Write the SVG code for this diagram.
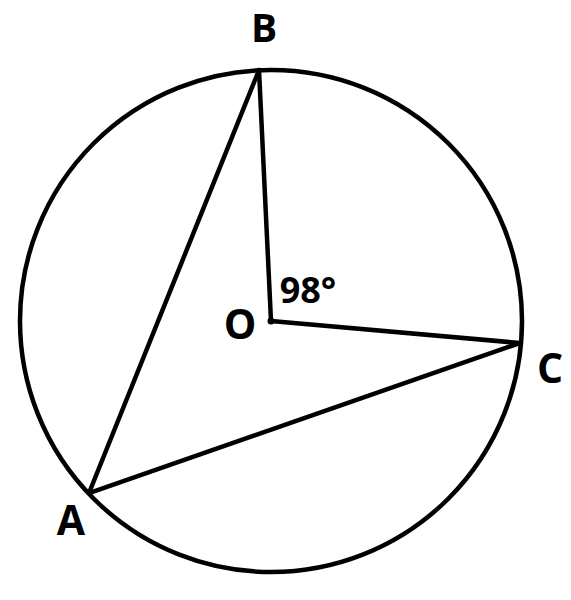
<svg xmlns="http://www.w3.org/2000/svg" width="571" height="600" viewBox="0 0 571 600">
<style>
.ln{fill:none;stroke:#000;stroke-width:4.5;stroke-linejoin:round;stroke-linecap:round}
.lb{font-family:"Open Sans","Liberation Sans",sans-serif;font-weight:bold;font-size:41px;fill:#000;text-anchor:middle}
.ag{font-size:36px}
.tp{font-size:39px}
</style>
<rect width="571" height="600" fill="#fff"/>
<circle id="circle" class="ln" cx="271" cy="321" r="251"/>
<g id="connectors">
<polyline class="ln" points="259,70 271,321 520,343"/>
<polyline class="ln" points="259,70 89,493 520,343"/>
</g>
<g id="O"><circle cx="271" cy="321" r="3.5" fill="#000"/><text class="lb" x="240" y="339">O</text></g>
<g id="B"><text class="lb tp" x="264" y="42">B</text></g>
<g id="C"><text class="lb" x="550" y="383">C</text></g>
<g id="A"><text class="lb" x="71" y="535">A</text></g>
<g id="angle"><text class="lb ag" x="308" y="303">98°</text></g>
</svg>
